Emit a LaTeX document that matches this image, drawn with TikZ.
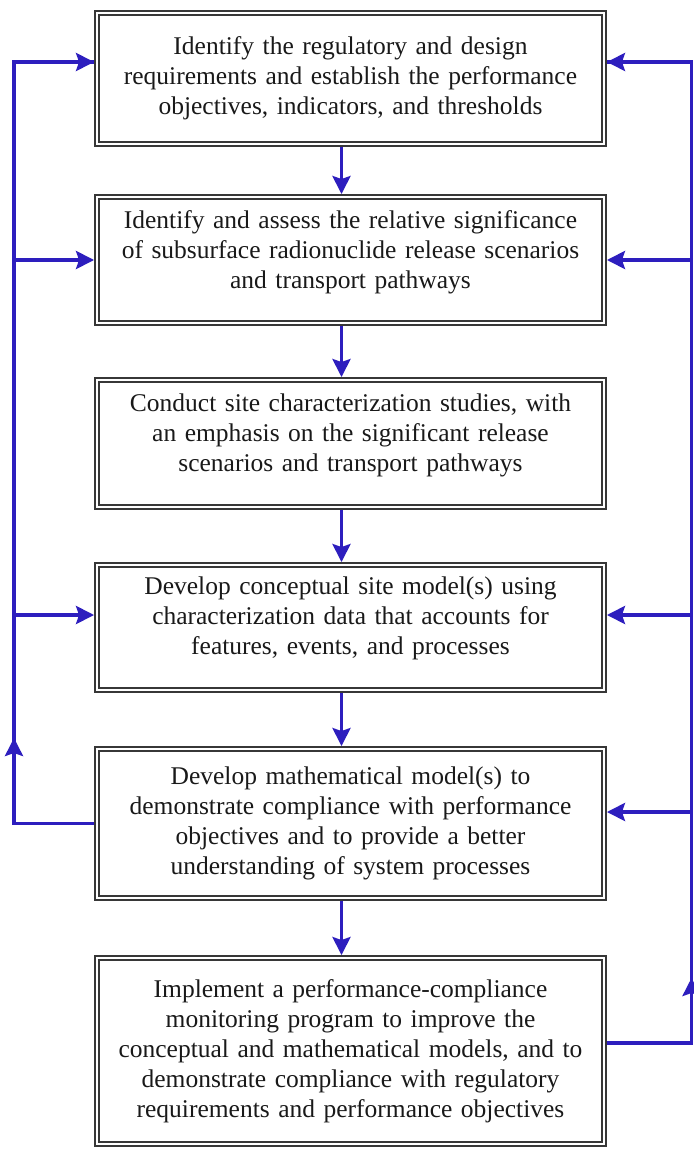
\documentclass[tikz,border=0pt]{standalone}
\usepackage{fontspec}
\setmainfont{Liberation Serif}
\usetikzlibrary{arrows.meta}
\definecolor{fblue}{RGB}{45,30,190}
\definecolor{bgray}{RGB}{55,55,55}
\newcommand{\lowpad}[1]{\rule[-#1pt]{0pt}{#1pt}}
\begin{document}
\begin{tikzpicture}[x=1pt,y=-1pt,
  box/.style={draw=bgray, double=white, double distance=2.5pt, line width=1.7pt,
    minimum width=507pt, text width=500pt, align=center, inner sep=0pt, outer sep=2.95pt,
    font=\fontsize{25.5}{30}\selectfont, text=black!90},
  wire/.style={draw=fblue, line width=3.5pt},
  flow/.style={wire, -{Stealth[length=18pt,width=18pt,inset=3pt]}}]
\useasboundingbox (0,0) rectangle (693,1150);
\fill[white] (0,0) rectangle (693,1150);

\node[box, minimum height=131pt] (b1) at (350.5,78.5)
  {Identify the regulatory and design\\ requirements and establish the performance\\ objectives, indicators, and thresholds};
\node[box, minimum height=126pt] (b2) at (350.5,260)
  {Identify and assess the relative significance\\ of subsurface radionuclide release scenarios\\ and transport pathways\lowpad{20}};
\node[box, minimum height=127pt] (b3) at (350.5,443.5)
  {Conduct site characterization studies, with\\ an emphasis on the significant release\\ scenarios and transport pathways\lowpad{22}};
\node[box, minimum height=125pt] (b4) at (350.5,627.5)
  {Develop conceptual site model(s) using\\ characterization data that accounts for\\ features, events, and processes\lowpad{24}};
\node[box, minimum height=149pt] (b5) at (350.5,823.5)
  {Develop mathematical model(s) to\\ demonstrate compliance with performance\\ objectives and to provide a better\\ understanding of system processes};
\node[box, minimum height=186pt] (b6) at (350.5,1051)
  {Implement a performance-compliance\\ monitoring program to improve the\\ conceptual and mathematical models, and to\\ demonstrate compliance with regulatory\\ requirements and performance objectives};

% downward flow
\draw[flow] ([xshift=-9pt]b1.south) -- ([xshift=-9pt]b2.north);
\draw[flow] ([xshift=-9pt]b2.south) -- ([xshift=-9pt]b3.north);
\draw[flow] ([xshift=-9pt]b3.south) -- ([xshift=-9pt]b4.north);
\draw[flow] ([xshift=-9pt]b4.south) -- ([xshift=-9pt]b5.north);
\draw[flow] ([xshift=-9pt]b5.south) -- ([xshift=-9pt]b6.north);

% left feedback loop
\coordinate (Lb) at (14,823.5);
\coordinate (Lt) at (14,62);
\coordinate (Lm) at (14,738);
\coordinate (L4) at (14,615);
\draw[wire, line join=miter] (b5.west) -- (Lb) -- (Lt) -- (Lt -| b1.west);
\draw[flow] (Lt) -- (Lt -| b1.west);
\draw[flow] (Lt |- b2.west) -- (b2.west);
\draw[flow] (L4) -- (L4 -| b4.west);
\draw[flow] (Lb) -- (Lm);

% right feedback loop
\coordinate (Rb) at (691.5,1043);
\coordinate (Rt) at (691.5,62);
\coordinate (Rm) at (691.5,978);
\coordinate (R4) at (691.5,615);
\coordinate (R5) at (691.5,812);
\draw[wire, line join=miter] (Rb -| b6.east) -- (Rb) -- (Rt) -- (Rt -| b1.east);
\draw[flow] (Rt) -- (Rt -| b1.east);
\draw[flow] (Rt |- b2.east) -- (b2.east);
\draw[flow] (R4) -- (R4 -| b4.east);
\draw[flow] (R5) -- (R5 -| b5.east);
\draw[flow] (Rb) -- (Rm);
\end{tikzpicture}
\end{document}
